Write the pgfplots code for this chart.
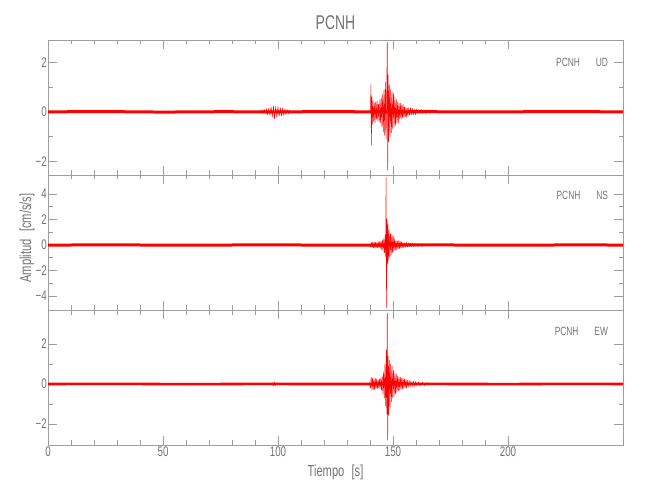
\documentclass[border=0pt]{standalone}
\usepackage{fontspec}
\setmainfont{Liberation Sans}[FakeStretch=0.7]
\usepackage{pgfplots}
\pgfplotsset{compat=1.18}
\definecolor{framegray}{gray}{0.62}
\definecolor{txtgray}{gray}{0.45}

\pgfplotsset{
  seis/.style={
    scale only axis, width=575bp, height=135bp, anchor=south west,
    xmin=0, xmax=250, xtick={0,50,100,150,200}, minor x tick num=4,
    minor y tick num=1,
    tick align=inside, major tick length=9bp, minor tick length=4.5bp,
    axis line style={framegray, line width=0.8bp},
    tick style={framegray, line width=0.8bp},
    tick label style={txtgray, font=\fontsize{14}{14}\selectfont},
    yticklabel style={inner sep=1bp},
    xticklabel style={inner sep=1.5bp},
  },
  base/.style={red, line width=3bp},
  trace/.style={red, line width=0.5bp, line join=round},
}
\tikzset{tag/.style={anchor=east, txtgray, font=\fontsize{12}{12}\selectfont}}

\begin{document}
\begin{tikzpicture}
\useasboundingbox (0,0) rectangle (650bp,500bp);

% UD
\begin{axis}[seis, at={(48bp,325bp)}, ymin=-2.55, ymax=2.9,
  ytick={-2,0,2}, yticklabels={−2,0,2}, xticklabels={}]
\addplot[base] coordinates {(0,0) (25,0.01) (50,-0.01) (75,0.005) (92,0)
  (106,0) (120,0.01) (140,0) (165,0.005) (190,-0.005) (220,0.01) (250,0)};
\addplot[trace] coordinates {(92,0.05) (92.5,-0.06) (93,0.08) (93.5,-0.07)
  (94,0.1) (94.5,-0.08) (95,0.12) (95.5,-0.12) (96,0.15) (96.5,-0.14)
  (97,0.2) (97.5,-0.2) (98,0.24) (98.5,-0.28) (99,0.22) (99.5,-0.22)
  (100,0.2) (100.5,-0.18) (101,0.17) (101.5,-0.16) (102,0.15) (102.5,-0.14)
  (103,0.12) (103.5,-0.1) (104,0.09) (104.5,-0.08) (105,0.07) (105.5,-0.06)};
\addplot[trace] coordinates {(139.8,0.05) (140.2,-0.05) (140.4,1.1)
  (140.6,-1.35) (140.8,0.6) (141.0,-0.5) (141.3,0.45) (141.6,-0.4)
  (141.9,0.35) (142.2,-0.45) (142.5,0.4) (142.8,-0.3) (143.1,0.45)
  (143.4,-0.35) (143.7,0.3) (144.0,-0.4) (144.3,0.5) (144.6,-0.45)
  (144.9,0.55) (145.2,-0.6) (145.5,0.7) (145.8,-0.8) (146.1,0.9)
  (146.4,-0.95) (146.7,1.2) (147.0,-1.1) (147.3,1.0) (147.5,2.8)
  (147.7,-2.35) (147.9,1.5) (148.1,-1.2) (148.4,1.1) (148.7,-1.0)
  (149.0,0.9) (149.3,-0.85) (149.6,0.8) (149.9,-0.7) (150.2,0.75)
  (150.5,-0.6) (150.8,0.6) (151.1,-0.55) (151.4,0.5) (151.7,-0.45)
  (152.0,0.4) (152.3,-0.45) (152.6,0.35) (152.9,-0.3) (153.2,0.35)
  (153.5,-0.3) (153.8,0.28) (154.1,-0.25) (154.4,0.3) (154.7,-0.22)
  (155.0,0.2) (155.3,-0.22) (155.6,0.18) (155.9,-0.2) (156.2,0.15)
  (156.5,-0.17) (156.8,0.15) (157.2,-0.14) (157.6,0.16) (158.0,-0.12)
  (158.4,0.14) (158.8,-0.12) (159.3,0.1) (159.8,-0.11) (160.3,0.12)
  (160.8,-0.09) (161.3,0.1) (161.8,-0.08) (162.4,0.09) (163.0,-0.08)
  (163.6,0.07) (164.2,-0.07) (164.8,0.06) (165.8,-0.06) (166.8,0.05)
  (167.8,-0.05) (168.8,0.04)};
\node[tag] at (axis cs:245,2) {PCNH\hspace{16bp}UD};
\end{axis}

% NS
\begin{axis}[seis, at={(48bp,190bp)}, ymin=-5.1, ymax=5.5,
  ytick={-4,-2,0,2,4}, yticklabels={−4,−2,0,2,4}, xticklabels={}]
\addplot[base] coordinates {(0,0) (30,0.01) (60,-0.01) (90,0.01) (120,0)
  (140,0) (165,0.01) (200,-0.01) (230,0.01) (250,0)};
\addplot[trace] coordinates {(139.9,0.1) (140.3,-0.15) (140.6,0.2)
  (140.9,-0.2) (141.2,0.25) (141.5,-0.2) (141.8,0.22) (142.1,-0.25)
  (142.4,0.2) (142.7,-0.18) (143.0,0.2) (143.3,-0.22) (143.6,0.25)
  (143.9,-0.2) (144.2,0.28) (144.5,-0.25) (144.8,0.3) (145.1,-0.35)
  (145.4,0.4) (145.7,-0.45) (146.0,0.5) (146.3,-0.6) (146.6,0.8)
  (146.8,-0.9) (147.0,5.3) (147.2,-4.9) (147.4,2.0) (147.6,-1.5)
  (147.8,1.6) (148.0,-1.2) (148.3,1.2) (148.6,-1.0) (148.9,0.9)
  (149.2,-0.8) (149.5,0.85) (149.8,-0.6) (150.1,0.7) (150.4,-0.5)
  (150.7,0.5) (151.0,-0.4) (151.3,0.35) (151.6,-0.35) (151.9,0.3)
  (152.2,-0.3) (152.5,0.35) (152.8,-0.28) (153.1,0.3) (153.4,-0.25)
  (153.7,0.25) (154.0,-0.22) (154.3,0.2) (154.7,-0.2) (155.1,0.18)
  (155.5,-0.18) (155.9,0.2) (156.3,-0.15) (156.7,0.18) (157.1,-0.14)
  (157.5,0.15) (157.9,-0.13) (158.4,0.14) (158.9,-0.12) (159.4,0.12)
  (159.9,-0.11) (160.5,0.1) (161.1,-0.1) (161.9,0.1) (162.9,-0.1) (163.9,0.09)};
\node[tag] at (axis cs:245,3.9) {PCNH\hspace{16bp}NS};
\end{axis}

% EW
\begin{axis}[seis, at={(48bp,55bp)}, ymin=-3.05, ymax=3.7,
  ytick={-2,0,2}, yticklabels={−2,0,2}, xticklabels={0,50,100,150,200}]
\addplot[base, line width=2.6bp] coordinates {(0,0) (30,0.01) (60,-0.01)
  (90,0.005) (120,0) (140,0) (165,0.005) (200,-0.005) (230,0.01) (250,0)};
\addplot[trace] coordinates {(97.5,0.06) (98,-0.1) (98.5,0.1) (99,-0.08) (99.5,0.05)};
\addplot[trace] coordinates {(139.8,0.08) (140.2,-0.2) (140.5,0.35)
  (140.8,-0.3) (141.1,0.3) (141.4,-0.28) (141.7,0.25) (142.0,-0.3)
  (142.3,0.28) (142.6,-0.22) (142.9,0.25) (143.2,-0.25) (143.5,0.22)
  (143.8,-0.2) (144.1,0.25) (144.4,-0.22) (144.7,0.3) (145.0,-0.3)
  (145.3,0.4) (145.6,-0.5) (145.9,0.6) (146.2,-0.7) (146.5,1.0)
  (146.8,-1.1) (147.1,1.7) (147.3,-1.5) (147.5,3.55) (147.7,-2.8)
  (147.9,1.4) (148.1,-1.55) (148.4,1.2) (148.7,-1.2) (149.0,1.0)
  (149.3,-0.9) (149.6,0.9) (149.9,-0.7) (150.2,0.7) (150.5,-0.6)
  (150.8,0.55) (151.1,-0.5) (151.4,0.5) (151.7,-0.4) (152.0,0.4)
  (152.3,-0.35) (152.6,0.35) (152.9,-0.3) (153.2,0.35) (153.5,-0.28)
  (153.8,0.3) (154.1,-0.25) (154.4,0.28) (154.7,-0.22) (155.0,0.25)
  (155.3,-0.2) (155.6,0.22) (155.9,-0.2) (156.2,0.2) (156.6,-0.16)
  (157.0,0.18) (157.4,-0.15) (157.8,0.16) (158.3,-0.13) (158.8,0.14)
  (159.3,-0.12) (159.8,0.12) (160.4,-0.1) (161.0,0.1) (161.8,-0.09)
  (162.8,0.08) (163.8,-0.08) (164.8,0.07) (165.8,-0.06)};
\node[tag] at (axis cs:245,2.65) {PCNH\hspace{16bp}EW};
\end{axis}

\node[txtgray, font=\fontsize{20}{20}\selectfont] at (335.5bp,477.5bp) {PCNH};
\node[txtgray, font=\fontsize{16}{16}\selectfont] at (335.5bp,28bp)
  {Tiempo\hspace{0.45em}[s]};
\node[txtgray, font=\fontsize{16}{16}\selectfont, rotate=90] at (27bp,262bp)
  {Amplitud\hspace{0.45em}[cm/s/s]};
\end{tikzpicture}
\end{document}
